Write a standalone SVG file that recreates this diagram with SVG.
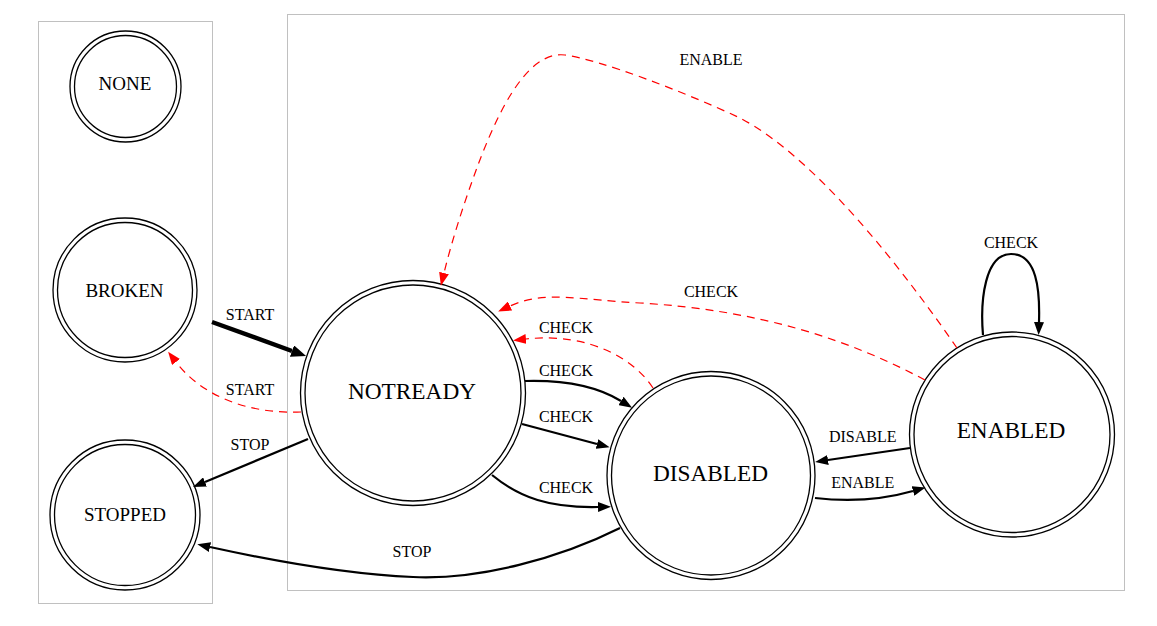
<svg xmlns="http://www.w3.org/2000/svg" width="1157" height="626" viewBox="0 0 1157 626">
<style>
.cl{fill:none;stroke:#c0c0c0;stroke-width:1}
.n circle{fill:none;stroke:#000;stroke-width:1.3}
.t{font-family:"Liberation Serif","Times New Roman",serif;fill:#000;text-anchor:middle}
.s{font-size:19px}
.b{font-size:23.3px}
.el{font-family:"Liberation Serif","Times New Roman",serif;font-size:16px;fill:#000;text-anchor:middle}
.e{fill:none;stroke:#000;stroke-width:2.2}
.r{fill:none;stroke:#ff0000;stroke-width:1.2;stroke-dasharray:8,6}
</style>
<defs>
<marker id="a" markerUnits="userSpaceOnUse" markerWidth="14" markerHeight="10" refX="0" refY="5" orient="auto"><path d="M0,0 L13,5 L0,10 z" fill="#000"/></marker>
<marker id="ar" markerUnits="userSpaceOnUse" markerWidth="14" markerHeight="10" refX="0" refY="5" orient="auto"><path d="M0,0 L13,5 L0,10 z" fill="#ff0000"/></marker>
<marker id="at" markerUnits="userSpaceOnUse" markerWidth="16" markerHeight="12" refX="0" refY="6" orient="auto"><path d="M0,0 L15,6 L0,12 z" fill="#000"/></marker>
</defs>
<rect width="1157" height="626" fill="#fff"/>
<rect class="cl" x="38.5" y="21.5" width="174" height="582"/>
<rect class="cl" x="287.5" y="14.5" width="837" height="576"/>

<g id="NONE" class="n"><circle cx="125.5" cy="86.5" r="55.5"/><circle cx="125.5" cy="86.5" r="51"/><text class="t s" x="125" y="90">NONE</text></g>
<g id="BROKEN" class="n"><circle cx="125" cy="290" r="72"/><circle cx="125" cy="290" r="67.5"/><text class="t s" x="124.5" y="296.5">BROKEN</text></g>
<g id="STOPPED" class="n"><circle cx="125" cy="515" r="75"/><circle cx="125" cy="515" r="70.5"/><text class="t s" x="125" y="521">STOPPED</text></g>
<g id="NOTREADY" class="n"><circle cx="413" cy="393" r="112.5"/><circle cx="413" cy="393" r="108"/><text class="t b" x="412" y="399.3">NOTREADY</text></g>
<g id="DISABLED" class="n"><circle cx="711" cy="475.5" r="104"/><circle cx="711" cy="475.5" r="99.5"/><text class="t b" x="710.5" y="480.7">DISABLED</text></g>
<g id="ENABLED" class="n"><circle cx="1012" cy="434.5" r="102.5"/><circle cx="1012" cy="434.5" r="98"/><text class="t b" x="1011" y="438.3">ENABLED</text></g>

<g id="edges">
<path d="M212,322 L292,351" fill="none" stroke="#000" stroke-width="4.5" marker-end="url(#at)"/>
<text class="el" x="250" y="320">START</text>
<path class="r" d="M301,412 C255,414 205,400 176,362" marker-end="url(#ar)"/>
<text class="el" x="250" y="394.5">START</text>
<path class="e" d="M308,439 L205,482" marker-end="url(#a)"/>
<text class="el" x="250" y="450">STOP</text>
<path class="e" d="M620,528 C560,558 480,580 413,577 C340,574 260,558 210,547" marker-end="url(#a)"/>
<text class="el" x="412" y="556.7">STOP</text>
<path class="e" d="M525,381 C560,380 595,385 621,401" marker-end="url(#a)"/>
<text class="el" x="566" y="375.7">CHECK</text>
<path class="e" d="M522,424 L597,444" marker-end="url(#a)"/>
<text class="el" x="566" y="422.3">CHECK</text>
<path class="e" d="M492,475 C520,498 550,508 598,507" marker-end="url(#a)"/>
<text class="el" x="566" y="493.3">CHECK</text>
<path class="r" d="M653,388 C635,360 590,332 526,339" marker-end="url(#ar)"/>
<text class="el" x="566" y="332.7">CHECK</text>
<path class="r" d="M925,380 C850,340 760,310 640,303 C580,300 545,290 510,306" marker-end="url(#ar)"/>
<text class="el" x="711" y="297">CHECK</text>
<path class="r" d="M957,348 C910,280 820,160 740,118 C680,90 600,60 565,55 C525,50 495,120 478,165 C465,200 452,240 444,273" marker-end="url(#ar)"/>
<text class="el" x="711" y="65">ENABLE</text>
<path class="e" d="M910,448 L828,460" marker-end="url(#a)"/>
<text class="el" x="862.7" y="442.3">DISABLE</text>
<path class="e" d="M815,498 C850,502 885,499 913,491" marker-end="url(#a)"/>
<text class="el" x="862.7" y="488.3">ENABLE</text>
<path class="e" d="M983,335 C980,300 985,254 1011,254 C1037,254 1040,290 1039,322" marker-end="url(#a)"/>
<text class="el" x="1011" y="248.3">CHECK</text>
</g>
</svg>
